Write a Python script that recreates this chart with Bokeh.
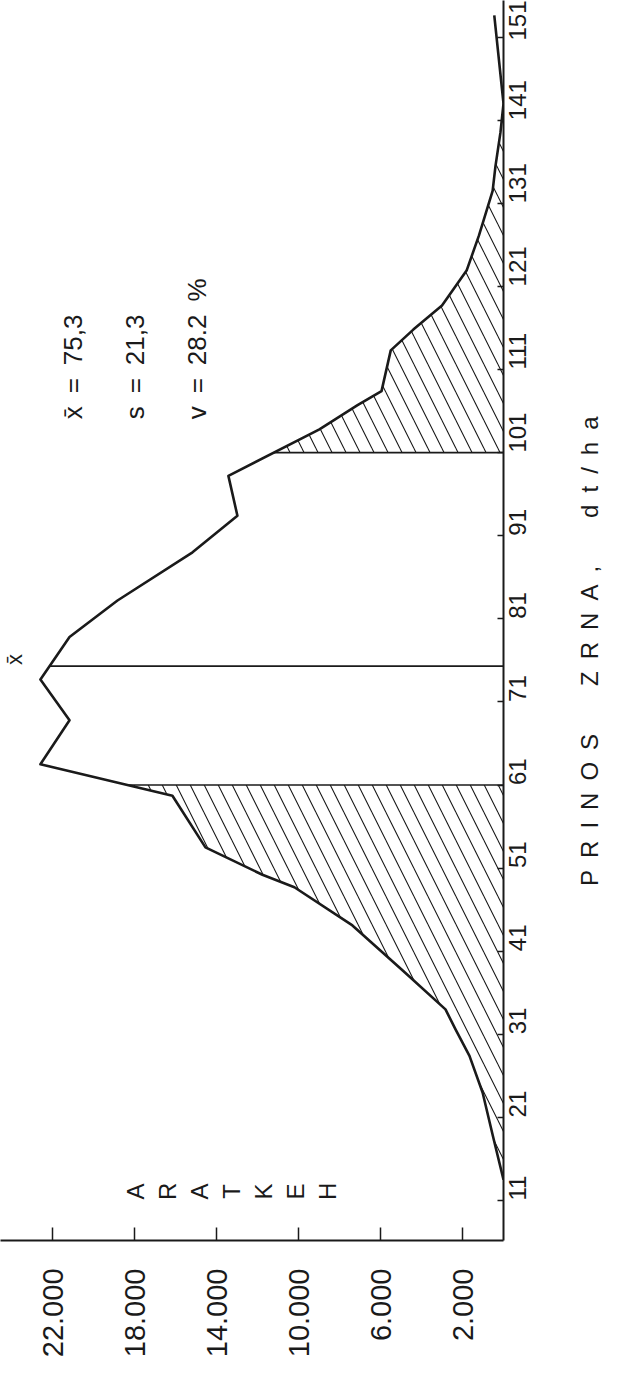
import math
import numpy as np
from bokeh.plotting import figure
from bokeh.layouts import row
from bokeh.models import Range1d, FixedTicker
from bokeh.core.properties import value
from bokeh.embed import file_html
from bokeh.resources import INLINE

# ---- data ----
prinos = [13.5, 18.8, 24.0, 28.4, 31.6, 34.0, 38.7, 44.1, 48.7, 50.2, 53.5, 59.7,
          63.5, 68.8, 73.7, 78.8, 83.2, 89.0, 93.4, 98.2, 103.8, 106.7, 108.4,
          113.3, 115.8, 118.7, 122.9, 127.1, 132.5, 135.5, 139.5, 143.0, 153.6]
hektara = [0, 520, 1020, 1660, 2340, 2830, 4930, 7370, 10200, 11760, 14540, 16150,
           22590, 21170, 22590, 21170, 18830, 15170, 12980, 13420, 8980, 7120, 5950,
           5500, 4400, 3000, 1800, 1200, 530, 390, 150, 0, 450]

yield_ticks = [11, 21, 31, 41, 51, 61, 71, 81, 91, 101, 111, 121, 131, 141, 151]
hectare_ticks = [2000, 6000, 10000, 14000, 18000, 22000]
hectare_labels = ["2.000", "6.000", "10.000", "14.000", "18.000", "22.000"]

mean_yield = 75.3
low_tail_end = 61
high_tail_start = 101
high_tail_end = 143

EN = "\u2002"
stats_text = ["x\u0304" + EN + "=" + EN + "75,3",
              "s" + EN + "=" + EN + "21,3",
              "v" + EN + "=" + EN + "28.2" + EN + "%"]
axis_title = ("P\u2002R\u2002I\u2002N\u2002O\u2002S\u2003\u2003Z\u2002R\u2002N\u2002A\u2002,"
              "\u2003\u2003d\u2002t\u2002/\u2002h\u2002a")
hectare_word = list("HEKTARA")

FONT = value("Liberation Sans")
INK = "#1a1a1a"

p = figure(frame_width=503, frame_height=1240,
           x_range=Range1d(24537, 0), y_range=Range1d(6.19, 155.4),
           x_axis_location="below", y_axis_location="right",
           output_backend="svg", toolbar_location=None,
           min_border_left=0, min_border_top=0, min_border_right=48, min_border_bottom=0)
p.outline_line_color = None
p.xgrid.visible = False
p.ygrid.visible = False
p.background_fill_color = "white"
p.border_fill_color = "white"

# hectare axis (bottom)
xa = p.xaxis[0]
xa.ticker = FixedTicker(ticks=hectare_ticks, minor_ticks=[])
xa.major_label_overrides = {t: l for t, l in zip(hectare_ticks, hectare_labels)}
xa.major_label_orientation = math.pi / 2
xa.major_tick_in = 13
xa.major_tick_out = 0
xa.minor_tick_in = 0
xa.minor_tick_out = 0
xa.major_label_standoff = 28
xa.major_label_text_font = "Liberation Sans"
xa.major_label_text_font_size = "29px"
xa.major_label_text_color = INK
xa.axis_line_width = 2
xa.axis_line_color = INK
xa.major_tick_line_width = 1.5
xa.major_tick_line_color = INK

# yield axis (right)
ya = p.yaxis[0]
ya.ticker = FixedTicker(ticks=yield_ticks, minor_ticks=[])
ya.major_label_orientation = math.pi / 2
ya.major_tick_in = 6
ya.major_tick_out = 0
ya.minor_tick_in = 0
ya.minor_tick_out = 0
ya.major_label_standoff = 14
ya.major_label_text_font = "Liberation Sans"
ya.major_label_text_font_size = "24px"
ya.major_label_text_color = INK
ya.axis_line_width = 2
ya.axis_line_color = INK
ya.major_tick_line_width = 1.5
ya.major_tick_line_color = INK

# hatched tails
py = np.array(prinos, dtype=float)
hx = np.array(hektara, dtype=float)
low_mask = py < low_tail_end
low_y = np.append(py[low_mask], low_tail_end)
low_x = np.append(hx[low_mask], np.interp(low_tail_end, py, hx))
high_mask = (py > high_tail_start) & (py <= high_tail_end)
high_y = np.concatenate([[high_tail_start], py[high_mask]])
high_x = np.concatenate([[np.interp(high_tail_start, py, hx)], hx[high_mask]])

for ys, xs in ((low_y, low_x), (high_y, high_x)):
    p.harea(y=ys, x1=np.zeros_like(xs), x2=xs, fill_alpha=0,
            hatch_pattern="\\", hatch_scale=28, hatch_weight=1.1,
            hatch_color=INK)

# class boundaries and mean line
for yy in (low_tail_end, high_tail_start):
    p.segment(x0=[0], y0=[yy], x1=[np.interp(yy, py, hx)], y1=[yy],
              line_color=INK, line_width=1.6)
p.segment(x0=[0], y0=[mean_yield], x1=[np.interp(mean_yield, py, hx)], y1=[mean_yield],
          line_color=INK, line_width=1.6)

# frequency polygon
p.line(hektara, prinos, line_color=INK, line_width=2.6, line_join="round")

# texts
p.text(x=[23850], y=[76.1], text=["x\u0304"], angle=math.pi / 2,
       text_align="center", text_baseline="middle", text_font=FONT,
       text_font_size="22px", text_color=INK)

p.text(x=[21000, 18000, 14930], y=[105.0] * 3, text=stats_text, angle=math.pi / 2,
       text_align="left", text_baseline="middle", text_font=FONT,
       text_font_size="26px", text_color=INK)

letter_x = [8600 + i * 1560 for i in range(len(hectare_word))]
p.text(x=letter_x, y=[12.1] * len(hectare_word), text=hectare_word, angle=math.pi / 2,
       text_align="center", text_baseline="middle", text_font=FONT,
       text_font_size="24px", text_color=INK)

# strip to the right of the yield axis carrying its title
p2 = figure(frame_width=52, frame_height=1240,
            x_range=Range1d(0, 52), y_range=p.y_range,
            x_axis_location=None, y_axis_location=None,
            output_backend="svg", toolbar_location=None,
            min_border_left=0, min_border_top=0, min_border_right=0, min_border_bottom=0)
p2.outline_line_color = None
p2.xgrid.visible = False
p2.ygrid.visible = False
p2.background_fill_color = "white"
p2.border_fill_color = "white"
p2.text(x=[38], y=[77.1], text=[axis_title], angle=math.pi / 2,
        text_align="center", text_baseline="middle", text_font=FONT,
        text_font_size="24px", text_color=INK)

layout = row(p, p2, spacing=0)
open("out.html", "w").write(file_html(layout, INLINE))
